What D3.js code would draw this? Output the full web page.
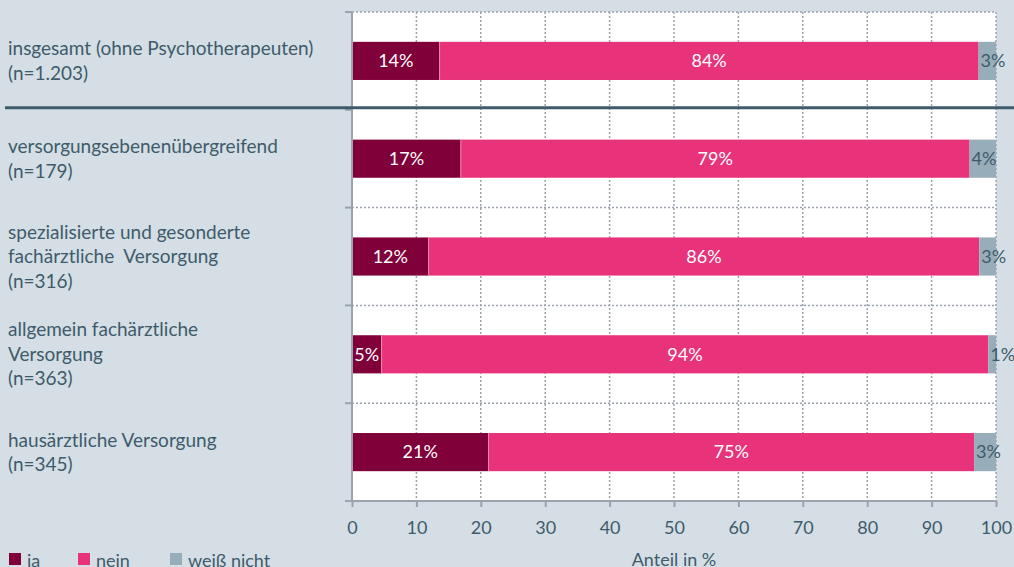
<!DOCTYPE html>
<meta charset="utf-8">
<style>
body { margin: 0; background: #d4dee4; }
svg { display: block; font-family: Lato, "Open Sans", sans-serif; }
.grid line { stroke: #9aa3ae; stroke-width: 1.5px; stroke-dasharray: 2,2; }
.axis-line { stroke: #9aa3ae; stroke-width: 2px; }
.txt { fill: #3f5b6b; font-size: 18px; }
.cat { font-size: 19px; }
</style>
<body>
<script src="https://d3js.org/d3.v7.min.js"></script>
<script>

var categories = [
  ["insgesamt (ohne Psychotherapeuten)", "(n=1.203)"],
  ["versorgungsebenenübergreifend", "(n=179)"],
  ["spezialisierte und gesonderte", "fachärztliche  Versorgung", "(n=316)"],
  ["allgemein fachärztliche", "Versorgung", "(n=363)"],
  ["hausärztliche Versorgung", "(n=345)"]
];
var ja = [13.6, 16.9, 11.9, 4.6, 21.2];
var nein = [83.7, 79.0, 85.5, 94.2, 75.4];
var weissNicht = [2.7, 4.1, 2.6, 1.2, 3.4];
var seriesNames = ["ja", "nein", "weiß nicht"];
var colors = ["#80003a", "#e8327a", "#97adba"];
var xTicks = [0, 10, 20, 30, 40, 50, 60, 70, 80, 90, 100];

var width = 1014, height = 567;
var pLeft = 352, pRight = 996, pTop = 12, pBottom = 501;

var svg = d3.select("body").append("svg")
    .attr("width", width)
    .attr("height", height);

var x = d3.scaleLinear().domain([0, 100]).range([pLeft, pRight]);
var y = d3.scaleBand().domain(d3.range(categories.length)).range([pTop, pBottom]).paddingInner(0.61).paddingOuter(0.305);
var step = y.step();

svg.append("rect")
    .attr("x", pLeft).attr("y", pTop)
    .attr("width", pRight - pLeft).attr("height", pBottom - pTop)
    .attr("fill", "#fff");

// grid
var grid = svg.append("g").attr("class", "grid");
grid.selectAll(".v")
    .data(xTicks.slice(1))
  .enter().append("line")
    .attr("x1", function(d) { return x(d); }).attr("x2", function(d) { return x(d); })
    .attr("y1", pTop).attr("y2", pBottom);
grid.selectAll(".h")
    .data([0, 2, 3, 4])
  .enter().append("line")
    .attr("x1", pLeft).attr("x2", pRight)
    .attr("y1", function(i) { return pTop + i * step; })
    .attr("y2", function(i) { return pTop + i * step; });

// stacked bars
var rows = categories.map(function(c, i) {
  return [ja[i], nein[i], weissNicht[i]];
});

rows.forEach(function(vals, i) {
  var x0 = 0;
  vals.forEach(function(v, k) {
    svg.append("rect")
        .attr("x", x(x0))
        .attr("y", y(i))
        .attr("width", x(x0 + v) - x(x0))
        .attr("height", y.bandwidth())
        .attr("fill", colors[k]);
    var t = svg.append("text")
        .attr("y", y(i) + y.bandwidth() / 2)
        .attr("dy", "0.35em")
        .style("font-size", "18px")
        .text(Math.round(v) + "%");
    if (k < 2) {
      t.attr("x", x(x0 + v / 2)).attr("text-anchor", "middle").attr("fill", "#fff");
    } else {
      t.attr("x", x(x0) + 2).attr("fill", "#3f5b6b");
    }
    x0 += v;
  });
});

// thin line between ja and nein
svg.selectAll(".sep")
    .data(rows)
  .enter().append("line")
    .attr("x1", function(d) { return x(d[0]); }).attr("x2", function(d) { return x(d[0]); })
    .attr("y1", function(d, i) { return y(i); })
    .attr("y2", function(d, i) { return y(i) + y.bandwidth(); })
    .attr("stroke", "#f08aae").attr("stroke-width", 1);

// y axis
svg.append("line").attr("class", "axis-line")
    .attr("x1", pLeft).attr("x2", pLeft).attr("y1", pTop).attr("y2", pBottom);
svg.selectAll(".ytick")
    .data(d3.range(categories.length + 1))
  .enter().append("line").attr("class", "axis-line")
    .attr("x1", pLeft - 7).attr("x2", pLeft)
    .attr("y1", function(i) { return pTop + i * step; })
    .attr("y2", function(i) { return pTop + i * step; });

// x axis
var xAxis = svg.append("g")
    .attr("transform", "translate(0," + pBottom + ")")
    .call(d3.axisBottom(x).tickValues(xTicks).tickSize(6).tickPadding(14));
xAxis.select(".domain").remove();
xAxis.selectAll(".tick line").attr("stroke", "#9aa3ae").attr("stroke-width", 2);
xAxis.selectAll(".tick text").attr("fill", "#3f5b6b").style("font-size", "18px").style("font-family", "Lato, sans-serif");
svg.append("line").attr("class", "axis-line")
    .attr("x1", pLeft - 7).attr("x2", pRight).attr("y1", pBottom).attr("y2", pBottom);

// separator below total row
svg.append("line")
    .attr("x1", 5).attr("x2", width)
    .attr("y1", pTop + step - 2).attr("y2", pTop + step - 2)
    .attr("stroke", "#3f5b6b").attr("stroke-width", 3);

// category labels
var lineH = 24.5;
categories.forEach(function(lines, i) {
  var cy = y(i) + y.bandwidth() / 2;
  var t = svg.append("text").attr("class", "txt cat").attr("x", 8);
  lines.forEach(function(l, j) {
    t.append("tspan")
        .attr("x", 8)
        .attr("y", cy + (j - (lines.length - 1) / 2) * lineH)
        .attr("dy", "0.35em")
        .style("white-space", "pre")
        .text(l);
  });
});

// axis title
svg.append("text").attr("class", "txt")
    .attr("x", (pLeft + pRight) / 2).attr("y", 566)
    .attr("text-anchor", "middle")
    .text("Anteil in %");

// legend
var legendX = [9, 78, 170];
var lg = svg.selectAll(".lg")
    .data(seriesNames)
  .enter().append("g")
    .attr("transform", function(d, i) { return "translate(" + legendX[i] + ",553)"; });
lg.append("rect").attr("width", 12).attr("height", 12)
    .attr("fill", function(d, i) { return colors[i]; });
lg.append("text").attr("class", "txt")
    .attr("x", 18).attr("y", 14)
    .text(function(d) { return d; });

</script>
